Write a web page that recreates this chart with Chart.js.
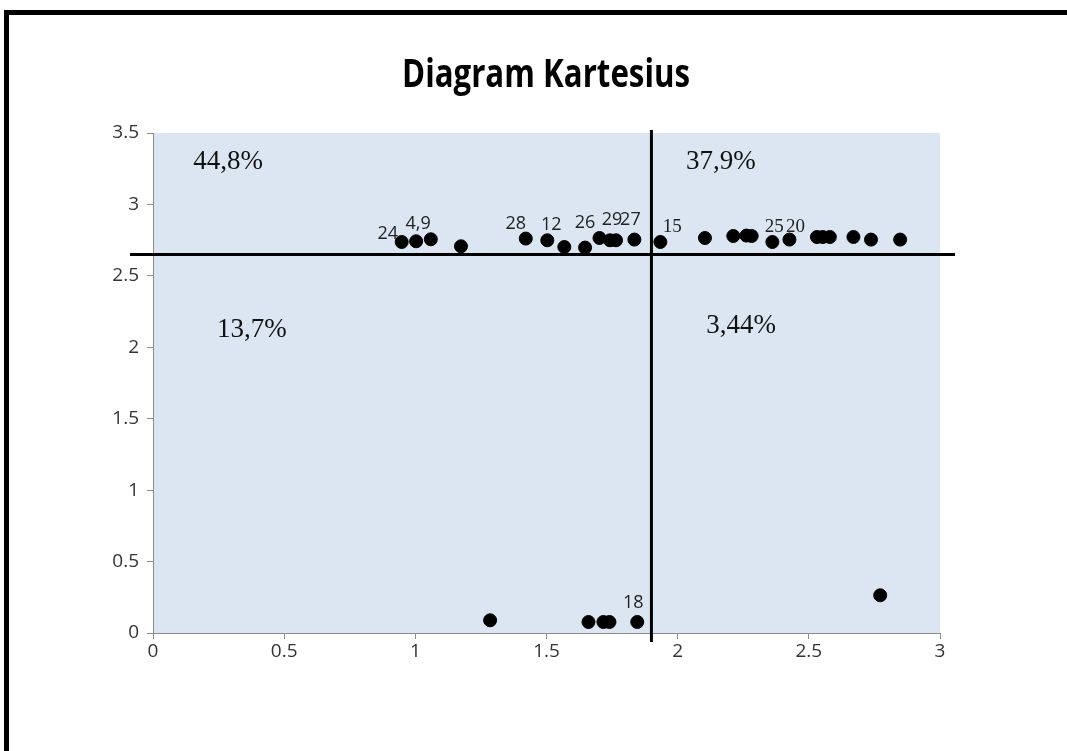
<!DOCTYPE html>
<html>
<head>
<meta charset="utf-8">
<title>Diagram Kartesius</title>
<script src="https://cdn.jsdelivr.net/npm/chart.js@4.4.1/dist/chart.umd.min.js"></script>
<style>
  html, body { margin: 0; padding: 0; background: #fff; overflow: hidden; }
  #wrap { position: relative; width: 1067px; height: 751px; }
  #frame { position: absolute; left: 4px; top: 10px; width: 2000px; height: 2000px;
           border: 5px solid #000; pointer-events: none; }
  canvas { position: absolute; left: 0; top: 0; }
</style>
</head>
<body>
<div id="wrap">
  <canvas id="kartesius" width="1067" height="751"></canvas>
  <div id="frame"></div>
</div>
<script>
// kinerja (x) vs kepentingan (y)
var xValues = [0.948, 1.003, 1.059, 1.174, 1.421, 1.503, 1.568, 1.647, 1.702, 1.742, 1.765, 1.835,
               1.934, 2.104, 2.212, 2.262, 2.282, 2.361, 2.426, 2.531, 2.553, 2.580, 2.670, 2.737, 2.848,
               1.285, 1.660, 1.717, 1.740, 1.846, 2.772];
var yValues = [2.737, 2.742, 2.756, 2.707, 2.761, 2.749, 2.702, 2.698, 2.765, 2.749, 2.749, 2.754,
               2.737, 2.765, 2.779, 2.782, 2.779, 2.737, 2.754, 2.772, 2.772, 2.772, 2.772, 2.754, 2.754,
               0.089, 0.077, 0.077, 0.077, 0.077, 0.264];
var pointLabels = ["24", "4,9", "", "", "28", "12", "", "26", "", "29", "", "27",
                   "15", "", "", "", "", "25", "20", "", "", "", "", "", "",
                   "", "", "", "", "18", ""];
var xTicks = [0, 0.5, 1, 1.5, 2, 2.5, 3];
var yTicks = [0, 0.5, 1, 1.5, 2, 2.5, 3, 3.5];
var thresholdX = 1.9;
var thresholdY = 2.65;
var quadrantText = ["44,8%", "37,9%", "13,7%", "3,44%"];
var quadrantX = [0.286, 2.165, 0.377, 2.242];
var quadrantY = [3.30, 3.30, 2.12, 2.147];

// little pixel nudges for the point labels
var labelShift = {
  "24": [-14, -8], "4,9": [2, -17], "28": [-10, -15], "12": [4, -15], "26": [0, -25],
  "29": [2, -20], "27": [-4, -20], "15": [12, -15], "25": [2, -15], "20": [6, -13], "18": [-4, -19]
};
var serifLabels = ["15", "25", "20"];

var points = xValues.map(function (v, i) { return { x: v, y: yValues[i] }; });

var overlay = {
  id: 'overlay',
  beforeDraw: function (chart) {
    var ctx = chart.ctx, a = chart.chartArea;
    ctx.save();
    ctx.fillStyle = '#fff';
    ctx.fillRect(0, 0, chart.width, chart.height);
    ctx.fillStyle = '#dce6f2';
    ctx.fillRect(a.left, a.top, a.right - a.left, a.bottom - a.top);
    ctx.restore();
  },
  beforeDatasetsDraw: function (chart) {
    var ctx = chart.ctx, a = chart.chartArea;
    var hx = chart.scales.x.getPixelForValue(thresholdX);
    var hy = chart.scales.y.getPixelForValue(thresholdY);
    ctx.save();
    ctx.strokeStyle = '#000';
    ctx.lineWidth = 3;
    ctx.beginPath();
    ctx.moveTo(a.left - 23, hy);
    ctx.lineTo(a.right + 15, hy);
    ctx.stroke();
    ctx.beginPath();
    ctx.moveTo(hx, a.top - 3);
    ctx.lineTo(hx, a.bottom + 9);
    ctx.stroke();
    ctx.restore();
  },
  afterDatasetsDraw: function (chart) {
    var ctx = chart.ctx, sx = chart.scales.x, sy = chart.scales.y;
    ctx.save();
    ctx.textAlign = 'center';
    ctx.textBaseline = 'middle';
    ctx.fillStyle = '#111';
    ctx.font = '27px "Liberation Serif", serif';
    quadrantText.forEach(function (t, i) {
      ctx.fillText(t, sx.getPixelForValue(quadrantX[i]), sy.getPixelForValue(quadrantY[i]));
    });
    pointLabels.forEach(function (t, i) {
      if (!t) return;
      var s = labelShift[t] || [0, -15];
      ctx.font = serifLabels.indexOf(t) >= 0 ? '19px "Liberation Serif", serif' : '18px "Open Sans", sans-serif';
      ctx.fillStyle = '#222';
      ctx.fillText(t, sx.getPixelForValue(xValues[i]) + s[0], sy.getPixelForValue(yValues[i]) + s[1]);
    });
    ctx.restore();
  },
  afterDraw: function (chart) {
    var ctx = chart.ctx;
    var title = 'Diagram Kartesius';
    ctx.save();
    ctx.font = 'bold 39px "Open Sans", sans-serif';
    var w = ctx.measureText(title).width;
    var k = 288 / w;
    ctx.translate(546, 87);
    ctx.scale(k, 1);
    ctx.textAlign = 'center';
    ctx.textBaseline = 'alphabetic';
    ctx.fillStyle = '#000';
    ctx.fillText(title, 0, 0);
    ctx.restore();
  }
};

new Chart(document.getElementById('kartesius').getContext('2d'), {
  type: 'scatter',
  data: {
    datasets: [{
      data: points,
      backgroundColor: '#000',
      borderColor: '#000',
      pointRadius: 6.5,
      pointHoverRadius: 6.5
    }]
  },
  plugins: [overlay],
  options: {
    responsive: false,
    animation: false,
    devicePixelRatio: 1,
    layout: { padding: { left: 0, right: 127, top: 133, bottom: 0 } },
    plugins: { legend: { display: false }, tooltip: { enabled: false }, title: { display: false } },
    scales: {
      x: {
        type: 'linear', min: 0, max: 3,
        afterFit: function (s) { s.height = 118; },
        afterBuildTicks: function (s) { s.ticks = xTicks.map(function (v) { return { value: v }; }); },
        grid: { display: true, drawOnChartArea: false, drawTicks: true, tickLength: 6, color: '#8c8c8c' },
        border: { display: true, color: '#8c8c8c' },
        ticks: { color: '#333', padding: 1, font: { family: 'Open Sans', size: 19 },
                 callback: function (v) { return String(v); } }
      },
      y: {
        type: 'linear', min: 0, max: 3.5,
        afterFit: function (s) { s.width = 153; },
        afterBuildTicks: function (s) { s.ticks = yTicks.map(function (v) { return { value: v }; }); },
        grid: { display: true, drawOnChartArea: false, drawTicks: true, tickLength: 6, color: '#8c8c8c' },
        border: { display: true, color: '#8c8c8c' },
        ticks: { color: '#333', padding: 8, font: { family: 'Open Sans', size: 19 },
                 callback: function (v) { return String(v); } }
      }
    }
  }
});
</script>
</body>
</html>
